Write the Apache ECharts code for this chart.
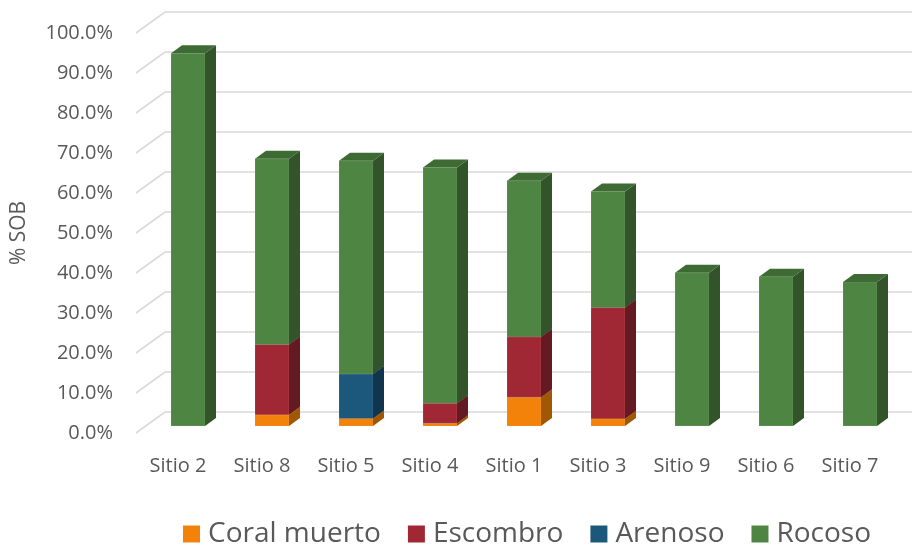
<!DOCTYPE html>
<html>
<head>
<meta charset="utf-8">
<script src="https://cdn.jsdelivr.net/npm/echarts@6/dist/echarts.min.js"></script>
<style>
  html, body { margin: 0; padding: 0; background: #fff; }
  #chart { width: 912px; height: 546px; }
</style>
</head>
<body>
<div id="chart"></div>
<script>
// Sites and cover share (% SOB) per substrate type
const categories = ['Sitio 2', 'Sitio 8', 'Sitio 5', 'Sitio 4', 'Sitio 1', 'Sitio 3', 'Sitio 9', 'Sitio 6', 'Sitio 7'];
const coralMuerto = [0, 2.8, 1.9, 0.7, 7.2, 1.8, 0, 0, 0];
const escombro    = [0, 17.6, 0, 5.0, 15.1, 27.8, 0, 0, 0];
const arenoso     = [0, 0, 11.1, 0, 0, 0, 0, 0, 0];
const rocoso      = [93.2, 46.4, 53.3, 58.9, 39.0, 29.0, 38.3, 37.3, 36.0];
const yTicks = [0, 10, 20, 30, 40, 50, 60, 70, 80, 90, 100];

const layers = [
  { name: 'Coral muerto', values: coralMuerto, front: '#F2820A', side: '#A05805', top: '#C86C08' },
  { name: 'Escombro',     values: escombro,    front: '#A02835', side: '#641A22', top: '#80202B' },
  { name: 'Arenoso',      values: arenoso,     front: '#1B587C', side: '#12354F', top: '#164866' },
  { name: 'Rocoso',       values: rocoso,      front: '#4E8542', side: '#33542B', top: '#3D6B33' }
];

const FONT = '"Open Sans", sans-serif';
const TEXT = '#595959';
const DEPTH_X = 11, DEPTH_Y = 8, BAR_W = 34;

// running totals so each layer sits on the one below
const base = categories.map(() => 0);
const barSeries = layers.map(layer => {
  const data = categories.map((c, i) => {
    const b = base[i];
    const t = b + layer.values[i];
    base[i] = t;
    return [i, b, t];
  });
  return {
    type: 'custom',
    name: layer.name,
    xAxisIndex: 1,
    yAxisIndex: 1,
    z: 3,
    silent: true,
    itemStyle: { color: layer.front },
    encode: { x: 0, y: [1, 2] },
    data: data,
    renderItem: function (params, api) {
      const i = api.value(0), b = api.value(1), t = api.value(2);
      if (t - b <= 0) return null;
      const pb = api.coord([i, b]);
      const pt = api.coord([i, t]);
      const x0 = pb[0] - BAR_W / 2, x1 = pb[0] + BAR_W / 2;
      const yb = pb[1], yt = pt[1];
      return {
        type: 'group',
        children: [
          { type: 'rect', shape: { x: x0, y: yt, width: BAR_W, height: yb - yt },
            style: { fill: layer.front, stroke: 'rgba(255,255,255,0.18)', lineWidth: 0.6 } },
          { type: 'polygon', shape: { points: [[x1, yt], [x1 + DEPTH_X, yt - DEPTH_Y], [x1 + DEPTH_X, yb - DEPTH_Y], [x1, yb]] },
            style: { fill: layer.side } },
          { type: 'polygon', shape: { points: [[x0, yt], [x1, yt], [x1 + DEPTH_X, yt - DEPTH_Y], [x0 + DEPTH_X, yt - DEPTH_Y]] },
            style: { fill: layer.top } }
        ]
      };
    }
  };
});

// floor/back-wall grid lines: short perspective stub, then the back wall line
const gridSeries = {
  type: 'custom',
  name: 'grid',
  xAxisIndex: 0,
  yAxisIndex: 0,
  z: 1,
  silent: true,
  encode: { x: 0, y: 1 },
  data: yTicks.map(v => [0, v]),
  renderItem: function (params, api) {
    const y = api.coord([0, api.value(1)])[1];
    const x0 = params.coordSys.x;
    return {
      type: 'polyline',
      shape: { points: [[x0, y], [x0 + 29, y - 21], [api.getWidth(), y - 21]] },
      style: { stroke: '#D9D9D9', lineWidth: 1.6, fill: null }
    };
  }
};

const chart = echarts.init(document.getElementById('chart'), null, { renderer: 'canvas' });
chart.setOption({
  animation: false,
  backgroundColor: '#ffffff',
  textStyle: { fontFamily: FONT },
  grid: [
    { left: 136, right: 20, top: 33, height: 400 },
    { left: 146, right: 10, top: 26, height: 400 }
  ],
  xAxis: [
    {
      type: 'category', gridIndex: 0, data: categories,
      axisLine: { show: false }, axisTick: { show: false },
      axisLabel: { color: TEXT, fontSize: 20, fontFamily: FONT, margin: 23 }
    },
    { type: 'category', gridIndex: 1, data: categories, show: false }
  ],
  yAxis: [
    {
      type: 'value', gridIndex: 0, min: 0, max: 100, interval: 10,
      name: '% SOB', nameLocation: 'middle', nameGap: 106,
      nameTextStyle: { color: TEXT, fontSize: 21, fontFamily: FONT },
      axisLine: { show: false }, axisTick: { show: false }, splitLine: { show: false },
      axisLabel: { color: TEXT, fontSize: 20, fontFamily: FONT, margin: 23,
        formatter: v => v.toFixed(1) + '%' }
    },
    { type: 'value', gridIndex: 1, min: 0, max: 100, show: false, splitLine: { show: false } }
  ],
  legend: {
    data: layers.map(l => l.name),
    left: 183, top: 519, padding: 0,
    icon: 'rect', itemWidth: 17, itemHeight: 17, itemGap: 27,
    selectedMode: false,
    textStyle: { color: TEXT, fontSize: 28, fontFamily: FONT, lineHeight: 30, padding: [0, 0, 0, 3] }
  },
  series: [gridSeries].concat(barSeries)
});
</script>
</body>
</html>
